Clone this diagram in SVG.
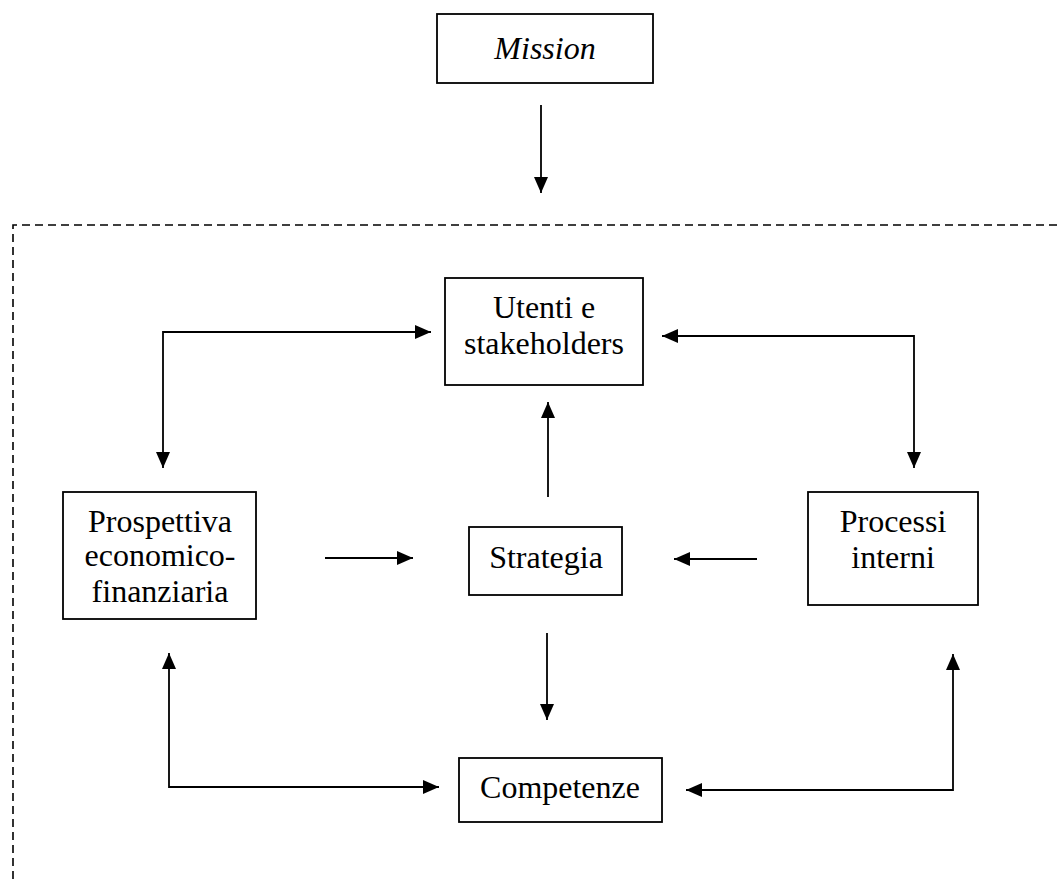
<svg xmlns="http://www.w3.org/2000/svg" width="1058" height="879" viewBox="0 0 1058 879">
<style>
.box{fill:#fff;stroke:#000;stroke-width:1.8}
.t{font-family:"Liberation Serif","Times New Roman",serif;font-size:32px;fill:#000;text-anchor:middle}
.c{fill:none;stroke:#000;stroke-width:1.8}
.d{fill:none;stroke:#000;stroke-width:1.6;stroke-dasharray:8 5}
</style>
<defs>
<marker id="ah" markerUnits="userSpaceOnUse" markerWidth="17" markerHeight="15" refX="16" refY="7" orient="auto-start-reverse" viewBox="0 0 17 15">
<path d="M0,0 L16,7 L0,14 z" fill="#000"/>
</marker>
</defs>
<rect width="1058" height="879" fill="#fff"/>
<path class="d" d="M13,879 V225 H1058"/>
<g id="mission"><rect class="box" x="437" y="14" width="216" height="69"/><text class="t" x="545" y="59" font-style="italic">Mission</text></g>
<g id="utenti"><rect class="box" x="445" y="278" width="198" height="107"/><text class="t" x="544" y="318">Utenti e</text><text class="t" x="544" y="354">stakeholders</text></g>
<g id="prospettiva"><rect class="box" x="63" y="492" width="193" height="127"/><text class="t" x="160" y="532">Prospettiva</text><text class="t" x="160" y="566">economico-</text><text class="t" x="160" y="602">finanziaria</text></g>
<g id="strategia"><rect class="box" x="469" y="527" width="153" height="68"/><text class="t" x="546" y="568">Strategia</text></g>
<g id="processi"><rect class="box" x="808" y="492" width="170" height="113"/><text class="t" x="893" y="532">Processi</text><text class="t" x="893" y="568">interni</text></g>
<g id="competenze"><rect class="box" x="459" y="758" width="203" height="64"/><text class="t" x="560" y="798">Competenze</text></g>
<g id="connectors">
<path class="c" d="M541,105 V193" marker-end="url(#ah)"/>
<path class="c" d="M431,332 H163 V468" marker-start="url(#ah)" marker-end="url(#ah)"/>
<path class="c" d="M662,336 H914 V468" marker-start="url(#ah)" marker-end="url(#ah)"/>
<path class="c" d="M548,497 V402" marker-end="url(#ah)"/>
<path class="c" d="M325,558 H413" marker-end="url(#ah)"/>
<path class="c" d="M757,559 H674" marker-end="url(#ah)"/>
<path class="c" d="M547,633 V720" marker-end="url(#ah)"/>
<path class="c" d="M169,653 V787 H439" marker-start="url(#ah)" marker-end="url(#ah)"/>
<path class="c" d="M953,654 V790 H686" marker-start="url(#ah)" marker-end="url(#ah)"/>
</g>
</svg>
